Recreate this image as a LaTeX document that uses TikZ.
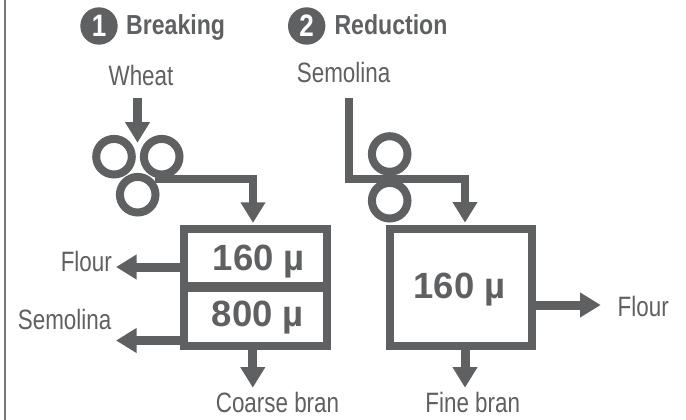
\documentclass[tikz,border=0pt]{standalone}
\usepackage{fontspec}
\usetikzlibrary{arrows.meta}
\setmainfont{Liberation Sans}
\newfontfamily\condfont[FakeStretch=0.8]{Liberation Sans}
\newfontfamily\condbold[FakeStretch=0.84]{Liberation Sans Bold}
\definecolor{mill}{HTML}{5F6062}
\definecolor{edge}{HTML}{77787A}
\tikzset{
  pipe/.style={draw=mill,line width=9pt,-{Triangle[length=20.5pt,width=23.5pt]},line cap=butt,miter limit=10},
  thinpipe/.style={pipe,line width=8pt},
  roller/.style={circle,draw=mill,line width=8pt,minimum size=35.6pt,inner sep=0pt},
  sieve/.style={rectangle,draw=mill,line width=8pt,inner sep=0pt},
  lab/.style={anchor=base,inner sep=0pt,text=mill,font=\condfont\fontsize{28}{28}\selectfont},
  head/.style={anchor=base west,inner sep=0pt,text=mill,font=\condbold\fontsize{27.5}{28}\selectfont},
  mesh/.style={anchor=base,inner sep=0pt,text=mill,font=\bfseries\fontsize{36.5}{37}\selectfont},
  badge/.style={circle,fill=mill,minimum size=37.4pt,inner sep=0pt,text=white,font=\condbold\fontsize{31}{31}\selectfont}
}
\begin{document}
\begin{tikzpicture}[x=1pt,y=-1pt]
\useasboundingbox (0,0) rectangle (686,420);
\fill[white] (0,0) rectangle (686,420);
\coordinate (bt) at (5,0);
\coordinate (bb) at (5,420);
\draw[edge,line width=2.2pt] (bt) -- (bb);
% headings
\node[badge] (b1) at (99,26) {1};
\node[badge] (b2) at (306.7,26) {2};
\node[head] (breaking) at (126,35) {Breaking};
\node[head] (reduction) at (334.3,35) {Reduction};
% labels
\node[lab] (wheat) at (141,85) {Wheat};
\node[lab] (semtop) at (343.6,82.7) {Semolina};
\node[lab] (flourl) at (86.3,271.7) {Flour};
\node[lab] (seml) at (64.6,329.3) {Semolina};
\node[lab] (coarse) at (277.5,412.3) {Coarse bran};
\node[lab] (fine) at (472.7,412.3) {Fine bran};
\node[lab] (flourr) at (643.2,316.7) {Flour};
% rollers
\node[roller] (ra) at (114,156.7) {};
\node[roller] (rb) at (161.7,156.7) {};
\node[roller] (rc) at (137.7,194.7) {};
\node[roller] (rd) at (389.7,154) {};
\node[roller] (re) at (389.7,200.7) {};
% sieves
\node[sieve,minimum width=142.8pt,minimum height=58.85pt] (up) at (255.35,258.33) {};
\node[sieve,minimum width=142.8pt,minimum height=59.55pt] (lo) at (255.35,316.03) {};
\node[sieve,minimum width=142.6pt,minimum height=117.5pt] (sv) at (461,287.4) {};
\node[mesh] (m1) at (259,270) {160 µ};
\node[mesh] (m2) at (258,326.7) {800 µ};
\node[mesh] (m3) at (459.5,298.3) {160 µ};
% connectors
\coordinate (wtop) at (137.5,98);
\coordinate (wtip) at (137.5,142.7);
\draw[pipe] (wtop) -- (wtip);
\coordinate (outa) at (155,179);
\coordinate (benda) at (253,179);
\draw[thinpipe,shorten >=2pt] (outa) -- (benda) -- (benda |- up.north);
\coordinate (stop) at (348.5,98);
\coordinate (bendb) at (348.5,179);
\coordinate (bendc) at (465,179);
\draw[thinpipe,shorten >=2pt] (stop) -- (bendb) -- (bendc) -- (bendc |- sv.north);
\coordinate (ftip) at (116,267);
\draw[pipe] (up.west |- ftip) -- (ftip);
\coordinate (stip) at (116,340.5);
\draw[pipe] (lo.west |- stip) -- (stip);
\coordinate (ctip) at (252.8,387.7);
\draw[pipe] (lo.south -| ctip) -- (ctip);
\coordinate (ntip) at (465,387.7);
\draw[pipe] (sv.south -| ntip) -- (ntip);
\coordinate (rtip) at (600.7,305);
\draw[pipe] (sv.east |- rtip) -- (rtip);
\end{tikzpicture}
\end{document}
